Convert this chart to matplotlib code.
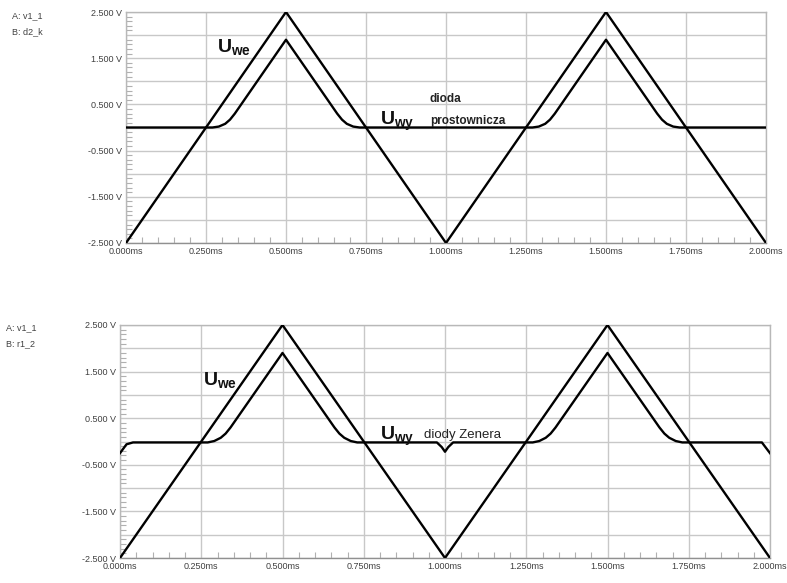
import numpy as np
import matplotlib
matplotlib.use("Agg")
import matplotlib.pyplot as plt
from matplotlib.ticker import MultipleLocator

plt.rcParams['font.family'] = ['Liberation Sans', 'DejaVu Sans']
plt.rcParams['mathtext.fontset'] = 'custom'
plt.rcParams['mathtext.bf'] = 'Liberation Sans:bold'
plt.rcParams['mathtext.rm'] = 'Liberation Sans'

# ---- data ----
t_we = [0.0, 0.5, 1.0, 1.5, 2.0]
u_we = [-2.5, 2.5, -2.5, 2.5, -2.5]

t_wy1 = [0.0, 0.27, 0.29, 0.31, 0.325, 0.34, 0.5, 0.66, 0.675, 0.69, 0.71, 0.73,
         1.27, 1.29, 1.31, 1.325, 1.34, 1.5, 1.66, 1.675, 1.69, 1.71, 1.73, 2.0]
u_wy1 = [0.0, 0.0, 0.02, 0.08, 0.17, 0.3, 1.9, 0.3, 0.17, 0.08, 0.02, 0.0,
         0.0, 0.02, 0.08, 0.17, 0.3, 1.9, 0.3, 0.17, 0.08, 0.02, 0.0, 0.0]

t_wy2 = [0.0, 0.02, 0.04, 0.27, 0.29, 0.31, 0.325, 0.34, 0.5, 0.66, 0.675, 0.69, 0.71, 0.73,
         0.975, 0.99, 1.0, 1.01, 1.025,
         1.27, 1.29, 1.31, 1.325, 1.34, 1.5, 1.66, 1.675, 1.69, 1.71, 1.73, 1.975, 2.0]
u_wy2 = [-0.25, -0.06, -0.02, -0.02, 0.01, 0.08, 0.17, 0.3, 1.9, 0.3, 0.17, 0.08, 0.01, -0.02,
         -0.02, -0.12, -0.22, -0.12, -0.02,
         -0.02, 0.01, 0.08, 0.17, 0.3, 1.9, 0.3, 0.17, 0.08, 0.01, -0.02, -0.02, -0.25]

x_ticks = [0.0, 0.25, 0.5, 0.75, 1.0, 1.25, 1.5, 1.75, 2.0]
x_labels = ['0.000ms', '0.250ms', '0.500ms', '0.750ms', '1.000ms', '1.250ms',
            '1.500ms', '1.750ms', '2.000ms']
y_grid = [-2.5, -2.0, -1.5, -1.0, -0.5, 0.0, 0.5, 1.0, 1.5, 2.0, 2.5]
y_label_map = {2.5: '2.500 V', 1.5: '1.500 V', 0.5: '0.500 V', -0.5: '-0.500 V',
               -1.5: '-1.500 V', -2.5: '-2.500 V'}

fig = plt.figure(figsize=(7.87, 5.83), dpi=100)
fig.patch.set_facecolor('white')

ax1 = fig.add_axes([126/787, 1-243/583, (766-126)/787, (243-12)/583])
ax2 = fig.add_axes([120/787, 1-558/583, (770-120)/787, (558-325)/583])

gridc = '#c8c8c8'
txtc = '#404040'

for ax in (ax1, ax2):
    ax.set_xlim(0, 2.0)
    ax.set_ylim(-2.5, 2.5)
    ax.set_xticks(x_ticks)
    ax.set_xticklabels(x_labels)
    ax.set_yticks(y_grid)
    ax.set_yticklabels([y_label_map.get(v, '') for v in y_grid])
    ax.xaxis.set_minor_locator(MultipleLocator(0.05))
    ax.yaxis.set_minor_locator(MultipleLocator(0.1))
    ax.grid(True, which='major', color=gridc, lw=1.0)
    ax.tick_params(which='major', length=0, labelsize=6.5, labelcolor=txtc, pad=3)
    ax.tick_params(which='minor', direction='in', length=4, color='#b0b0b0', width=0.8)
    ax.tick_params(axis='x', which='minor', top=False)
    ax.tick_params(axis='y', which='minor', right=False)
    for s in ax.spines.values():
        s.set_color('#b8b8b8')
        s.set_linewidth(1.0)
    ax.spines['bottom'].set_color('#909090')
    ax.plot(t_we, u_we, color='black', lw=1.7, solid_joinstyle='miter', zorder=3)

ax1.plot(t_wy1, u_wy1, color='black', lw=1.7, zorder=3)
ax2.plot(t_wy2, u_wy2, color='black', lw=1.7, zorder=3)

# annotations
fig.text(217/787, 1-53/583, r'$\mathbf{U}_{\mathbf{we}}$', fontsize=14, color='#111111')
fig.text(380/787, 1-125/583, r'$\mathbf{U}_{\mathbf{wy}}$', fontsize=14, color='#111111')
fig.text(430/787, 1-102/583, 'dioda', fontsize=8.5, fontweight='bold', color='#222222')
fig.text(430/787, 1-124/583, 'prostownicza', fontsize=8.5, fontweight='bold', color='#222222')

fig.text(203/787, 1-386/583, r'$\mathbf{U}_{\mathbf{we}}$', fontsize=14, color='#111111')
fig.text(380/787, 1-440/583, r'$\mathbf{U}_{\mathbf{wy}}$', fontsize=14, color='#111111')
fig.text(424/787, 1-438/583, 'diody Zenera', fontsize=9.5, color='#222222')

# channel labels
fig.text(12/787, 1-18/583, 'A: v1_1', fontsize=6.5, color=txtc)
fig.text(12/787, 1-34/583, 'B: d2_k', fontsize=6.5, color=txtc)
fig.text(6/787, 1-330/583, 'A: v1_1', fontsize=6.5, color=txtc)
fig.text(6/787, 1-346/583, 'B: r1_2', fontsize=6.5, color=txtc)

fig.savefig('out.png', dpi=100, facecolor='white')
